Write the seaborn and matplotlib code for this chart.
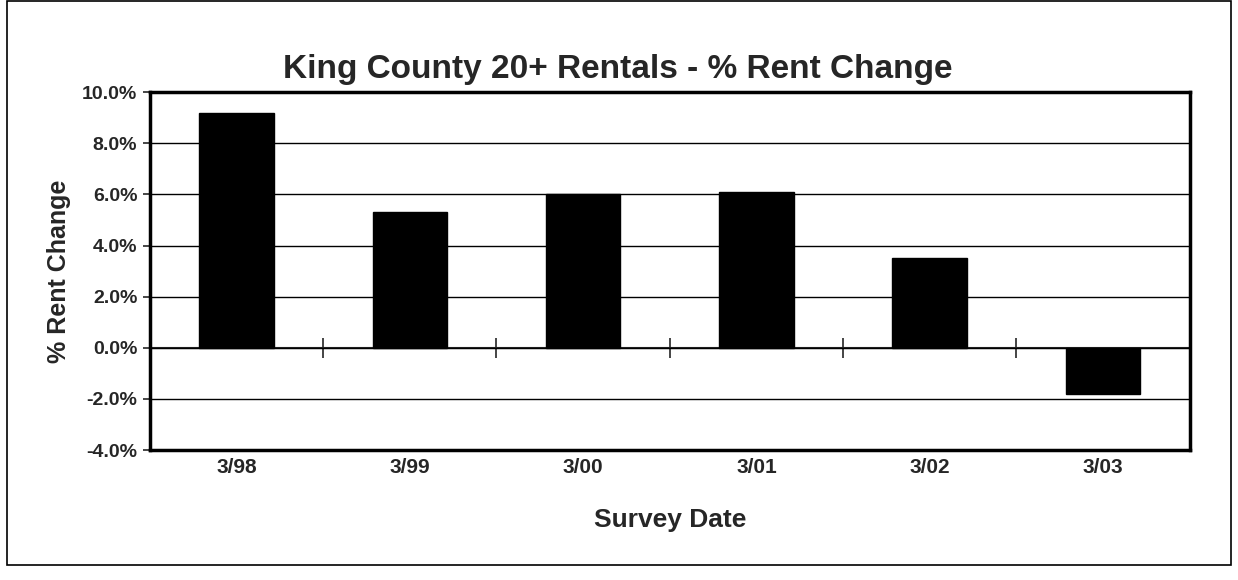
import matplotlib
matplotlib.use("Agg")
import matplotlib.pyplot as plt
import matplotlib.patches as patches
import seaborn as sns
import pandas as pd

dates = ["3/98", "3/99", "3/00", "3/01", "3/02", "3/03"]
rent_change = [9.2, 5.3, 6.0, 6.1, 3.5, -1.8]
y_ticks = [-4, -2, 0, 2, 4, 6, 8, 10]

sns.set_style("white")
plt.rcParams["font.family"] = ["Liberation Sans", "DejaVu Sans"]
plt.rcParams["font.weight"] = "bold"

df = pd.DataFrame({"date": dates, "change": rent_change})

fig = plt.figure(figsize=(12.38, 5.8), dpi=100)
ax = fig.add_axes([0.121, 0.224, 0.84, 0.617])

sns.barplot(data=df, x="date", y="change", color="black", saturation=1,
            width=0.43, edgecolor="black", ax=ax)

ax.set_ylim(-4, 10)
ax.set_xlim(-0.5, len(dates) - 0.5)
ax.set_yticks(y_ticks)
ax.set_yticklabels([f"{v:.1f}%" for v in y_ticks], fontsize=14, fontweight="bold")
ax.set_xticks(range(len(dates)))
ax.set_xticklabels(dates, fontsize=15, fontweight="bold")
ax.tick_params(axis="x", length=0, pad=6)
ax.tick_params(axis="y", length=5, width=1.2, direction="out", left=True, pad=4)

ax.yaxis.grid(True, color="black", linewidth=1.0)
ax.set_axisbelow(True)
for s in ax.spines.values():
    s.set_visible(True)
    s.set_color("black")
    s.set_linewidth(2.5)

# category axis crossing at zero with boundary ticks
zero_pos = (0 - (-4)) / 14
sec = ax.secondary_xaxis(zero_pos)
sec.set_xticks([i + 0.5 for i in range(len(dates) - 1)])
sec.set_xticklabels([])
sec.tick_params(length=14, width=1.2, direction="inout")
sec.spines["bottom"].set_linewidth(1.5)

ax.set_title("King County 20+ Rentals - % Rent Change", fontsize=24,
             fontweight="bold", pad=10, x=0.45)
ax.set_xlabel("Survey Date", fontsize=19, fontweight="bold", labelpad=22)
ax.set_ylabel("% Rent Change", fontsize=18, fontweight="bold", labelpad=8)

fig.patches.append(patches.Rectangle((0.006, 0.026), 0.988, 0.972,
                                     transform=fig.transFigure, fill=False,
                                     edgecolor="black", linewidth=1.2))

fig.savefig("out.png", dpi=100, facecolor="white")
